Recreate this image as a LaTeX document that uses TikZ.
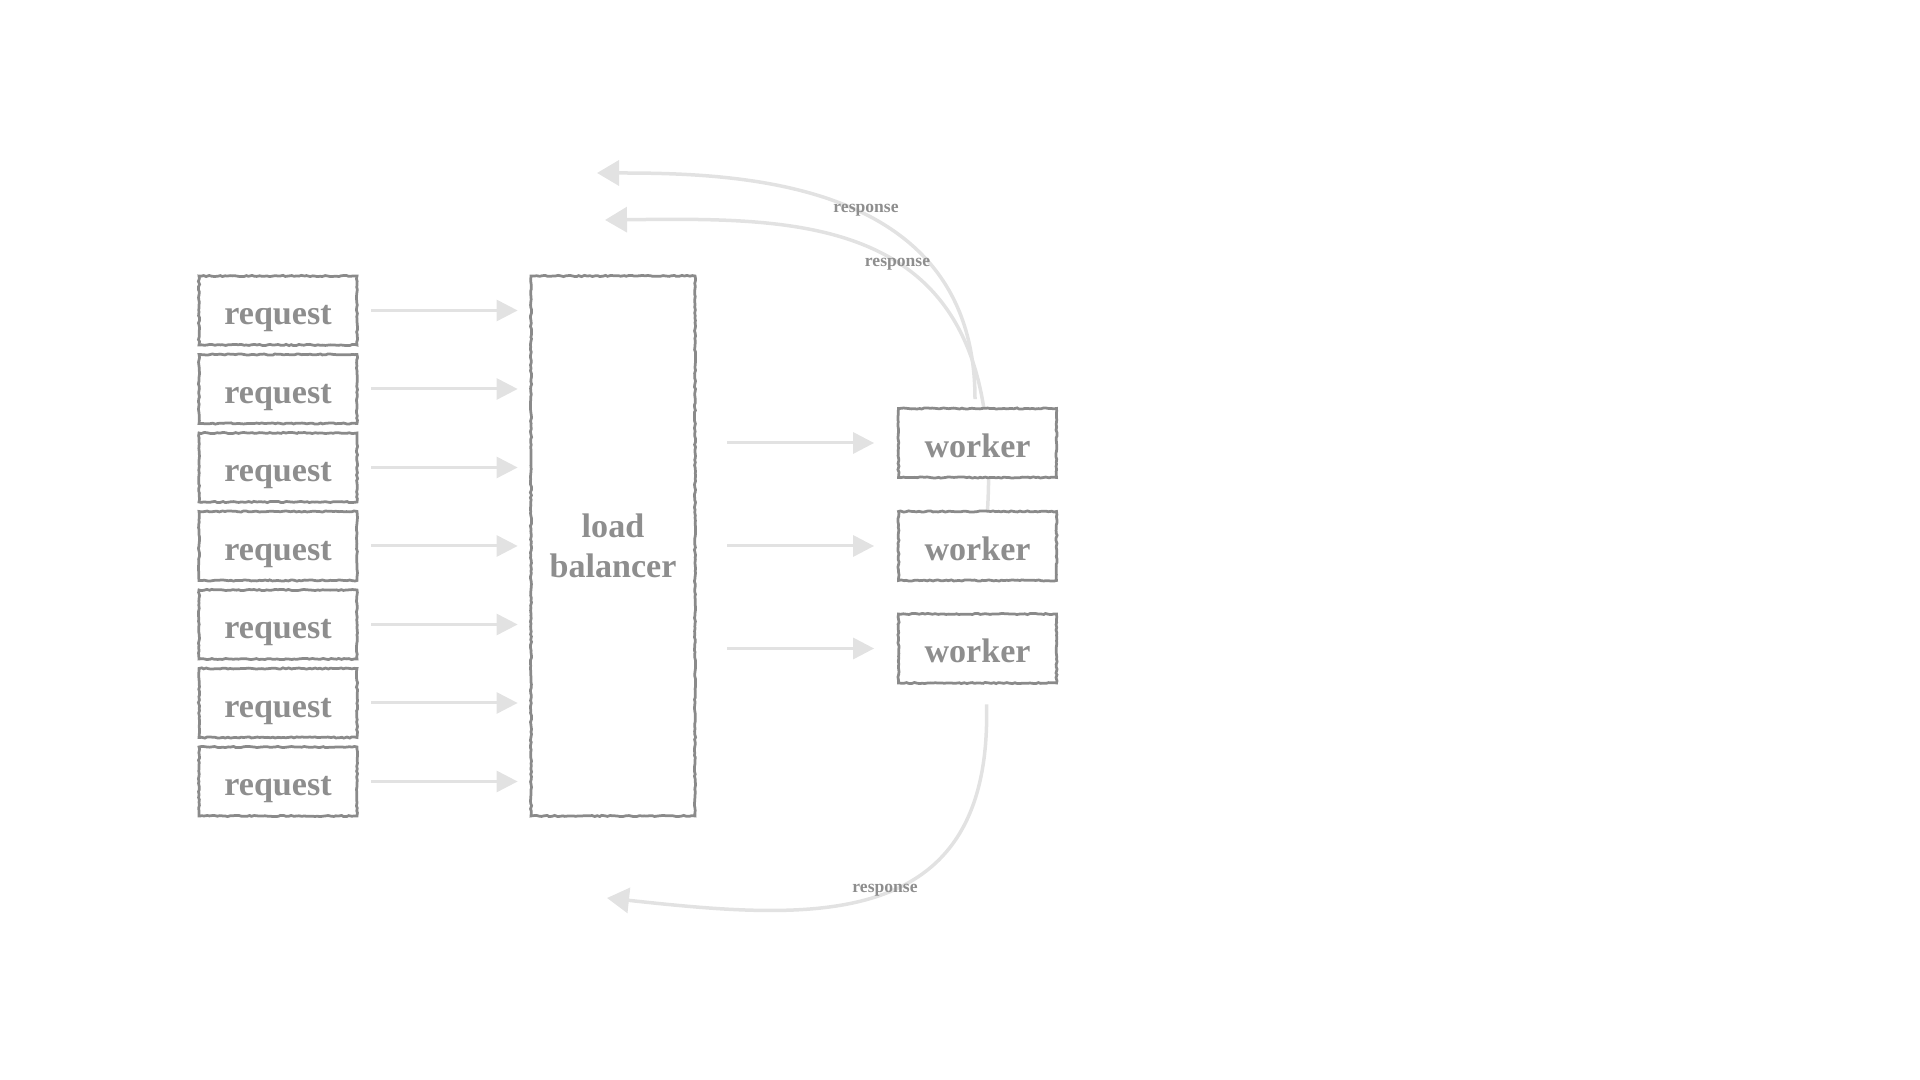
\documentclass[tikz,border=0pt]{standalone}
\usepackage{fontspec}
\setmainfont{Liberation Serif}
\usetikzlibrary{arrows.meta, decorations.pathmorphing}
\definecolor{boxgray}{HTML}{8A8A8A}
\definecolor{textgray}{HTML}{8E8E8E}
\definecolor{flowgray}{HTML}{E2E2E2}
\pgfdeclarelayer{background}
\pgfsetlayers{background,main}

\begin{document}
\begin{tikzpicture}[
    sketch/.style={draw=boxgray, line width=0.055cm, fill=white, decorate,
        decoration={random steps, segment length=1.5pt, amplitude=0.35pt}},
    frame/.style={sketch, inner sep=0pt, text=textgray, font=\fontsize{19.4}{22.8}\selectfont\bfseries},
    box/.style={frame, minimum width=3.16cm, minimum height=1.38cm, text height=0.58cm, text depth=0pt},
    flow/.style={-{Triangle[length=0.42cm, width=0.42cm]}, draw=flowgray, line width=0.06cm},
    reply/.style={-{Triangle[length=0.44cm, width=0.5cm]}, draw=flowgray, line width=0.07cm},
    resp/.style={text=textgray, font=\fontsize{10}{12}\selectfont\bfseries}
]
    \pgfmathsetseed{7}
    \useasboundingbox (0,0) rectangle (38.4,21.6);

    % Requests
    \node[box] (r1) at (5.56, 15.39) {request};
    \node[box] (r2) at (5.56, 13.82) {request};
    \node[box] (r3) at (5.56, 12.25) {request};
    \node[box] (r4) at (5.56, 10.68) {request};
    \node[box] (r5) at (5.56, 9.11) {request};
    \node[box] (r6) at (5.56, 7.54) {request};
    \node[box] (r7) at (5.56, 5.97) {request};
    % Load balancer
    \node[frame, minimum width=3.28cm, minimum height=10.8cm, align=center] (lb) at (12.26, 10.68) {load\\balancer};
    % Workers
    \node[box] (w1) at (19.55, 12.74) {worker};
    \node[box] (w2) at (19.55, 10.68) {worker};
    \node[box] (w3) at (19.55, 8.63) {worker};
    % Free ends of the responses
    \coordinate (t1) at (11.94, 18.14);
    \coordinate (t2) at (12.1, 17.2);
    \coordinate (t3) at (12.14, 3.64);

    % Requests to the load balancer
    \draw[flow, shorten <=0.26cm, shorten >=0.24cm] (r1.east) -- (r1.east -| lb.west);
    \draw[flow, shorten <=0.26cm, shorten >=0.24cm] (r2.east) -- (r2.east -| lb.west);
    \draw[flow, shorten <=0.26cm, shorten >=0.24cm] (r3.east) -- (r3.east -| lb.west);
    \draw[flow, shorten <=0.26cm, shorten >=0.24cm] (r4.east) -- (r4.east -| lb.west);
    \draw[flow, shorten <=0.26cm, shorten >=0.24cm] (r5.east) -- (r5.east -| lb.west);
    \draw[flow, shorten <=0.26cm, shorten >=0.24cm] (r6.east) -- (r6.east -| lb.west);
    \draw[flow, shorten <=0.26cm, shorten >=0.24cm] (r7.east) -- (r7.east -| lb.west);
    % Load balancer to the workers
    \draw[flow, shorten <=0.62cm, shorten >=0.46cm] (w1.west -| lb.east) -- (w1.west);
    \draw[flow, shorten <=0.62cm, shorten >=0.46cm] (w2.west -| lb.east) -- (w2.west);
    \draw[flow, shorten <=0.62cm, shorten >=0.46cm] (w3.west -| lb.east) -- (w3.west);

    % Responses (behind the boxes)
    \begin{pgfonlayer}{background}
    \draw[reply, shorten <=0.16cm] ([xshift=-0.05cm]w1.north) .. controls (19.5, 18.0) and (14.8, 18.14) .. (t1); % from worker 1
    \draw[reply] ([xshift=0.2cm]w2.north) .. controls (20.1, 17.3) and (16.2, 17.25) .. (t2); % from worker 2
    \draw[reply, shorten <=0.4cm] ([xshift=0.17cm]w3.south) .. controls (19.85, 2.9) and (16.2, 3.2) .. (t3); % from worker 3
    \end{pgfonlayer}
    \node[resp] (l1) at (17.32, 17.4) {response};
    \node[resp] (l2) at (17.95, 16.32) {response};
    \node[resp] (l3) at (17.7, 3.8) {response};
\end{tikzpicture}
\end{document}
